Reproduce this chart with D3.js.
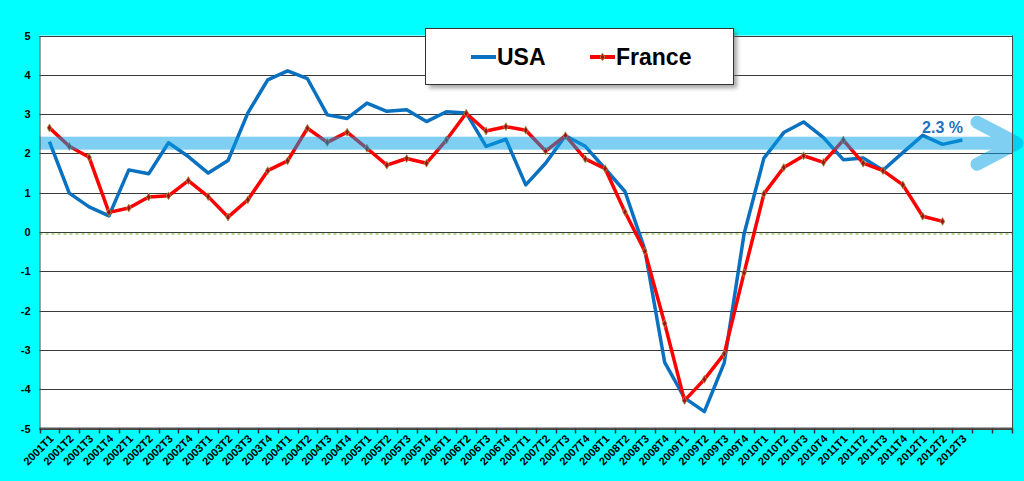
<!DOCTYPE html>
<html>
<head>
<meta charset="utf-8">
<script src="https://cdn.jsdelivr.net/npm/d3@7"></script>
<style>
  html, body { margin: 0; padding: 0; background: #00FFFF; }
  svg { display: block; }
  text { font-family: "Liberation Sans", Arial, sans-serif; }
</style>
</head>
<body>
<svg id="chart" width="1024" height="481"></svg>
<script>
// ---- data ----
const categories = [
  "2001T1","2001T2","2001T3","2001T4",
  "2002T1","2002T2","2002T3","2002T4",
  "2003T1","2003T2","2003T3","2003T4",
  "2004T1","2004T2","2004T3","2004T4",
  "2005T1","2005T2","2005T3","2005T4",
  "2006T1","2006T2","2006T3","2006T4",
  "2007T1","2007T2","2007T3","2007T4",
  "2008T1","2008T2","2008T3","2008T4",
  "2009T1","2009T2","2009T3","2009T4",
  "2010T1","2010T2","2010T3","2010T4",
  "2011T1","2011T2","2011T3","2011T4",
  "2012T1","2012T2","2012T3"
];
const emptySlots = ["_e1", "_e2"];
const usa = [2.30,0.99,0.64,0.41,1.58,1.48,2.27,1.92,1.50,1.82,3.03,3.87,4.10,3.90,2.98,2.89,
  3.28,3.07,3.11,2.81,3.06,3.03,2.18,2.36,1.20,1.75,2.45,2.18,1.61,1.03,-0.45,-3.32,
  -4.22,-4.57,-3.33,-0.05,1.88,2.53,2.80,2.40,1.84,1.88,1.57,2.02,2.46,2.23,2.34];
const france = [2.65,2.18,1.90,0.50,0.61,0.89,0.92,1.31,0.90,0.38,0.82,1.56,1.81,2.64,2.28,2.54,
  2.13,1.70,1.87,1.75,2.34,3.02,2.57,2.68,2.59,2.06,2.45,1.86,1.61,0.51,-0.49,-2.33,
  -4.29,-3.75,-3.10,-1.04,0.97,1.64,1.94,1.77,2.34,1.75,1.56,1.20,0.40,0.27];
const yTicks = [-5,-4,-3,-2,-1,0,1,2,3,4,5];
const trendValue = 2.26;
const trendLabel = "2.3 %";
const seriesNames = ["USA", "France"];

// ---- layout ----
const svg = d3.select("#chart");
const L = 39.5, R = 1012, T = 35.5, B = 428.5;

const x = d3.scaleBand().domain(categories.concat(emptySlots)).range([L, R]).padding(0);
const y = d3.scaleLinear().domain([-5, 5]).range([B, T]);
const cx = (c) => x(c) + x.bandwidth() / 2;

const defs = svg.append("defs");
const f = defs.append("filter").attr("id", "shadow").attr("x", "-10%").attr("y", "-10%").attr("width", "130%").attr("height", "140%");
f.append("feGaussianBlur").attr("stdDeviation", 2);

// plot background
svg.append("rect").attr("x", L).attr("y", T).attr("width", R - L).attr("height", B - T).attr("fill", "#fff");

// gridlines
svg.append("g").selectAll("line").data(yTicks).join("line")
  .attr("x1", L).attr("x2", R)
  .attr("y1", d => Math.round(y(d)) + 0.5).attr("y2", d => Math.round(y(d)) + 0.5)
  .attr("stroke", "#3a3a3a").attr("stroke-width", 1);

// zero line (dotted green)
svg.append("line")
  .attr("x1", L).attr("x2", R)
  .attr("y1", Math.round(y(0)) + 2).attr("y2", Math.round(y(0)) + 2)
  .attr("stroke", "#b8dc8c").attr("stroke-width", 2).attr("stroke-dasharray", "3,3");

// lines
const line = d3.line().x((d, i) => cx(categories[i])).y(d => y(d));
svg.append("path").datum(usa).attr("d", line)
  .attr("fill", "none").attr("stroke", "#0a70c0").attr("stroke-width", 3.5).attr("stroke-linejoin", "round");
svg.append("path").datum(france).attr("d", line)
  .attr("fill", "none").attr("stroke", "#ff0000").attr("stroke-width", 3.5).attr("stroke-linejoin", "round");

// france markers
svg.append("g").selectAll("path").data(france).join("path")
  .attr("d", d3.symbol().type(d3.symbolDiamond).size(18))
  .attr("transform", (d, i) => `translate(${cx(categories[i])},${y(d)})`)
  .attr("fill", "#a0101a").attr("stroke", "#a0a040").attr("stroke-width", 0.8);

// trend arrow (translucent)
const ty = y(trendValue);
const ag = svg.append("g").attr("opacity", 0.5);
ag.append("rect").attr("x", L).attr("y", ty - 6.5).attr("width", 1005 - L).attr("height", 13).attr("fill", "#00a0e6");
ag.append("path")
  .attr("d", `M977,${ty - 21} L1017,${ty} L977,${ty + 21}`)
  .attr("fill", "none").attr("stroke", "#00a0e6").attr("stroke-width", 13)
  .attr("stroke-linecap", "round").attr("stroke-linejoin", "round");

svg.append("text").attr("x", cx(categories[categories.length - 2])).attr("y", ty - 10)
  .attr("text-anchor", "middle").attr("font-size", 16).attr("font-weight", "bold")
  .attr("fill", "#1e72be").text(trendLabel);

// y axis
const yAxis = d3.axisLeft(y).tickValues(yTicks).tickSize(0).tickPadding(9).tickFormat(d => String(d));
const yg = svg.append("g").attr("transform", `translate(${L},0)`).call(yAxis);
yg.select(".domain").attr("stroke", "#444");
yg.selectAll("text").attr("font-size", 11).attr("font-weight", "bold").attr("fill", "#000")
  .style("font-family", "'Liberation Sans', Arial, sans-serif");

// right border
svg.append("line").attr("x1", R + 0.5).attr("x2", R + 0.5).attr("y1", T).attr("y2", B).attr("stroke", "#444");

// x axis labels
const xAxis = d3.axisBottom(x).tickSize(0).tickPadding(0).tickFormat(d => d.startsWith("_") ? "" : d);
const xg = svg.append("g").attr("transform", `translate(0,${B})`).call(xAxis);
xg.select(".domain").remove();
xg.selectAll(".tick text")
  .attr("font-size", 11).attr("font-weight", "bold").attr("fill", "#000")
  .style("font-family", "'Liberation Sans', Arial, sans-serif")
  .attr("text-anchor", "end")
  .attr("dy", null)
  .attr("transform", "translate(5,11) rotate(-45)");
svg.append("line").attr("x1", L).attr("x2", R + 1).attr("y1", B).attr("y2", B).attr("stroke", "#555").attr("stroke-width", 2);
// boundary ticks
const bounds = categories.concat(emptySlots).map(c => x(c)).concat([R]);
svg.append("g").selectAll("line").data(bounds).join("line")
  .attr("x1", d => Math.round(d) + 0.5).attr("x2", d => Math.round(d) + 0.5)
  .attr("y1", B).attr("y2", B + 5).attr("stroke", "#333").attr("stroke-width", 1.5);

// legend
const lg = svg.append("g");
lg.append("rect").attr("x", 429).attr("y", 31).attr("width", 308).attr("height", 57)
  .attr("fill", "#666").attr("opacity", 0.6).attr("filter", "url(#shadow)");
lg.append("rect").attr("x", 425.5).attr("y", 28.5).attr("width", 308).attr("height", 56)
  .attr("fill", "#fff").attr("stroke", "#333").attr("stroke-width", 1);
lg.append("line").attr("x1", 471).attr("x2", 496).attr("y1", 57).attr("y2", 57).attr("stroke", "#0a70c0").attr("stroke-width", 4);
lg.append("text").attr("x", 497).attr("y", 64.5).attr("font-size", 23).attr("font-weight", "bold").attr("fill", "#000").text(seriesNames[0]);
lg.append("line").attr("x1", 590).attr("x2", 615).attr("y1", 57).attr("y2", 57).attr("stroke", "#ff0000").attr("stroke-width", 4);
lg.append("path").attr("d", d3.symbol().type(d3.symbolDiamond).size(18)).attr("transform", "translate(602.5,57)")
  .attr("fill", "#a0101a").attr("stroke", "#a0a040").attr("stroke-width", 0.8);
lg.append("text").attr("x", 616).attr("y", 64.5).attr("font-size", 23).attr("font-weight", "bold").attr("fill", "#000").text(seriesNames[1]);
</script>
</body>
</html>
